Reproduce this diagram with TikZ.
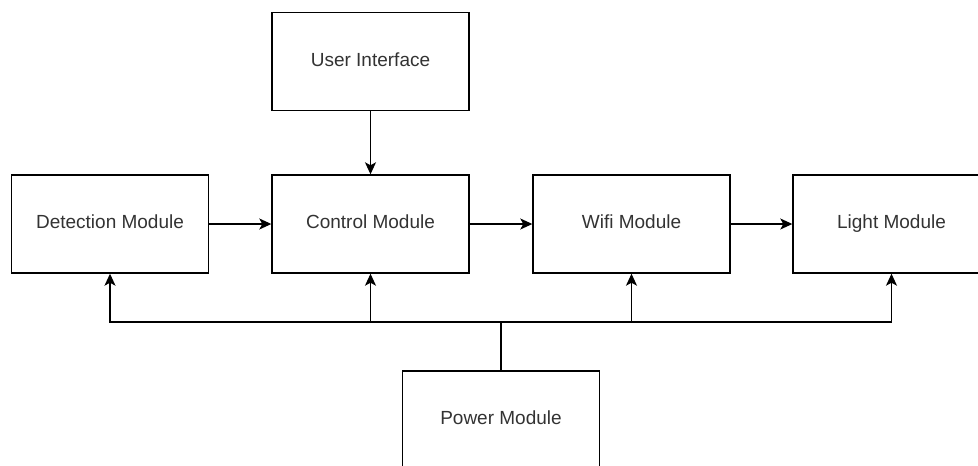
\documentclass[tikz,border=0pt]{standalone}
\usepackage{fontspec}
\setmainfont{Liberation Sans}
\usetikzlibrary{arrows.meta,positioning}
\definecolor{TextGray}{HTML}{333333}
\tikzset{
  modulo/.style = {draw, line width=1.4pt, align=center, text=TextGray,
                   font=\fontsize{19}{23}\selectfont,
                   execute at begin node=\strut,
                   minimum width=197pt, minimum height=98pt, inner sep=0pt},
  flecha/.style = {-{Stealth[length=12pt,width=11pt,inset=3pt]}, line width=1.4pt},
  linea/.style  = {line width=1.4pt},
}
\begin{document}
\begin{tikzpicture}[x=1pt,y=-1pt]
  \useasboundingbox[fill=white] (0,0) rectangle (978,466);
  \clip (0,0) rectangle (978,466);
  \node[modulo] (ui)      at (370.5,61.5)  {User Interface};
  \node[modulo] (detect)  at (110,224)     {Detection Module};
  \node[modulo] (control) at (370.5,224)   {Control Module};
  \node[modulo] (wifi)    at (631.5,224)   {Wifi Module};
  \node[modulo] (light)   at (891.5,224)   {Light Module};
  \node[modulo] (power)   at (501,420)     {Power Module};
  \coordinate (bus) at (501,322);
  % flujo de datos
  \draw[flecha] (ui) -- (control);
  \draw[flecha] (detect) -- (control);
  \draw[flecha] (control) -- (wifi);
  \draw[flecha] (wifi) -- (light);
  % alimentacion
  \draw[linea] (power.north) -- (bus);
  \draw[flecha] (bus) -| (detect.south);
  \draw[flecha] (bus) -| (control.south);
  \draw[flecha] (bus) -| (wifi.south);
  \draw[flecha] (bus) -| (light.south);
\end{tikzpicture}
\end{document}
